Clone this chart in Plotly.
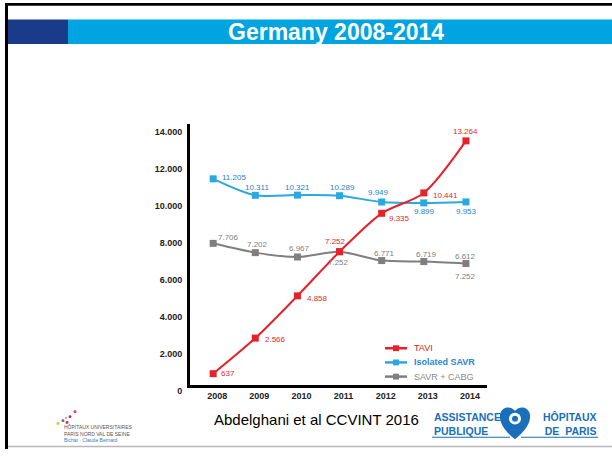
import plotly.graph_objects as go

# ---- data ----
years = [2008, 2009, 2010, 2011, 2012, 2013, 2014]
tavi = [637, 2566, 4858, 7252, 9335, 10441, 13264]
isolated_savr = [11205, 10311, 10321, 10289, 9949, 9899, 9953]
savr_cabg = [7706, 7202, 6967, 7252, 6771, 6719, 6612]
y_ticks = [0, 2000, 4000, 6000, 8000, 10000, 12000, 14000]
stray_label_year = [2014]
stray_label_value = [6612]
stray_label_text = ["7.252"]

W, H = 612, 459
RED = "#e8202a"
BLUE = "#2aa8e0"
GRAY = "#7f7f7f"


def fmt(v):
    return f"{v:,}".replace(",", ".")


def px(x):
    return x / W


def py(y):
    return 1 - y / H


fig = go.Figure()

series = [
    ("SAVR + CABG", savr_cabg, GRAY),
    ("Isolated SAVR", isolated_savr, BLUE),
    ("TAVI", tavi, RED),
]
for key, vals, col in series:
    fig.add_trace(go.Scatter(
        x=years, y=vals, name=key, mode="lines+markers",
        line=dict(color=col, width=2, shape="spline", smoothing=0.8),
        marker=dict(symbol="square", size=7, color=col),
        cliponaxis=False, showlegend=False,
    ))

# label styles (anchor, xshift, yshift) per point
label_styles = {
    "TAVI": [("left", 6, 0), ("left", 8, -1), ("left", 8, -3), ("center", -4, 10),
             ("left", 5, -5), ("left", 7, -3), ("center", 0, 9)],
    "Isolated SAVR": [("left", 7, 1), ("center", 2, 8), ("center", 0, 8), ("center", 3, 8),
                      ("center", -3, 9), ("center", 1, -9), ("center", 1, -10)],
    "SAVR + CABG": [("left", 3, 6), ("center", 2, 8), ("center", 2, 8), ("center", -1, -11),
                    ("center", 3, 7), ("center", 3, 7), ("center", 0, 7)],
}
label_colors = {"TAVI": "#e02a2a", "Isolated SAVR": "#2a80c8", "SAVR + CABG": "#808080"}
annotations = []
for key, vals, col in series:
    for yr, v, (anc, xs, ys) in zip(years, vals, label_styles[key]):
        annotations.append(dict(
            x=yr, y=v, xref="x", yref="y", text=fmt(v), showarrow=False,
            xanchor=anc, yanchor="middle", xshift=xs, yshift=ys,
            font=dict(family="Liberation Sans", size=8, color=label_colors[key]),
        ))
for yr, v, t in zip(stray_label_year, stray_label_value, stray_label_text):
    annotations.append(dict(
        x=yr, y=v, xref="x", yref="y", text=t, showarrow=False,
        xanchor="center", yanchor="middle", yshift=-13,
        font=dict(family="Liberation Sans", size=8, color="#808080"),
    ))

shapes = []

# manual legend (TAVI, Isolated SAVR, SAVR + CABG)
legend_items = [
    ("TAVI", RED, "<span style='color:#e02020'>TAVI</span>", 356),
    ("Isolated SAVR", BLUE, "<b><span style='color:#2a88d0'>Isolated SAVR</span></b>", 370.5),
    ("SAVR + CABG", GRAY, "<span style='color:#8a8a8a'>SAVR + CABG</span>", 385),
]
for key, col, txt, ly in legend_items:
    shapes.append(dict(type="line", xref="paper", yref="paper", x0=px(385), x1=px(407),
                       y0=py(ly), y1=py(ly), line=dict(color=col, width=2.5)))
    shapes.append(dict(type="rect", xref="paper", yref="paper", x0=px(393), x1=px(399),
                       y0=py(ly + 3), y1=py(ly - 3), fillcolor=col, line_width=0))
    annotations.append(dict(
        x=px(412), y=py(ly), xref="paper", yref="paper", text=txt, showarrow=False,
        xanchor="left", yanchor="middle",
        font=dict(family="Liberation Sans", size=9),
    ))

# slide texts
annotations.append(dict(
    x=px(336), y=py(33), xref="paper", yref="paper", text="<b>Germany 2008-2014</b>",
    showarrow=False, xanchor="center", yanchor="middle",
    font=dict(family="Liberation Sans", size=23, color="white"),
))
annotations.append(dict(
    x=px(316), y=py(429), xref="paper", yref="paper", text="Abdelghani et al CCVINT 2016",
    showarrow=False, xanchor="center", yanchor="middle",
    font=dict(family="Liberation Sans", size=15, color="black"),
))
aphp = "#1a6fba"
annotations.append(dict(
    x=px(432), y=py(433), xref="paper", yref="paper",
    text="<b>ASSISTANCE<br>PUBLIQUE</b>", align="left",
    showarrow=False, xanchor="left", yanchor="middle",
    font=dict(family="Liberation Sans Narrow, Liberation Sans", size=10.5, color=aphp),
))
annotations.append(dict(
    x=px(598), y=py(433), xref="paper", yref="paper",
    text="<b>HÔPITAUX<br>DE  PARIS</b>", align="right",
    showarrow=False, xanchor="right", yanchor="middle",
    font=dict(family="Liberation Sans Narrow, Liberation Sans", size=10.5, color=aphp),
))
annotations.append(dict(
    x=px(62), y=py(443), xref="paper", yref="paper",
    text="HÔPITAUX UNIVERSITAIRES<br>PARIS NORD VAL DE SEINE<br><span style='color:#3a7cc0'>Bichat · Claude Bernard</span>",
    align="left", showarrow=False, xanchor="left", yanchor="middle",
    font=dict(family="Liberation Sans Narrow, Liberation Sans", size=5, color="#555"),
))

shapes += [
    # borders
    dict(type="rect", xref="paper", yref="paper", x0=px(5), x1=px(612), y0=py(6), y1=py(3),
         fillcolor="black", line_width=0),
    dict(type="rect", xref="paper", yref="paper", x0=px(5), x1=px(8), y0=py(459), y1=py(3),
         fillcolor="black", line_width=0),
    dict(type="line", xref="paper", yref="paper", x0=px(8), x1=px(612), y0=py(456.5), y1=py(456.5),
         line=dict(color="#b8b8b8", width=1.5)),
    # title bar
    dict(type="rect", xref="paper", yref="paper", x0=px(68), x1=px(612), y0=py(45), y1=py(20),
         fillcolor="#00a4e0", line_width=0),
    dict(type="rect", xref="paper", yref="paper", x0=px(8), x1=px(68), y0=py(45), y1=py(20),
         fillcolor="#1a3b8a", line_width=0),
    # AP-HP underlines
    dict(type="line", xref="paper", yref="paper", x0=px(432), x1=px(510), y0=py(447), y1=py(447),
         line=dict(color=aphp, width=1)),
    dict(type="line", xref="paper", yref="paper", x0=px(521), x1=px(598), y0=py(447), y1=py(447),
         line=dict(color=aphp, width=1)),
]

# heart
hp = [(515, 449), (505, 441), (499, 432), (500, 424), (501, 416), (510, 414), (515, 420),
      (520, 414), (529, 416), (530, 424), (531, 432), (525, 441), (515, 449)]
path = f"M {px(hp[0][0])} {py(hp[0][1])}"
for i in range(1, len(hp), 3):
    a, b, c = hp[i], hp[i + 1], hp[i + 2]
    path += f" C {px(a[0])} {py(a[1])}, {px(b[0])} {py(b[1])}, {px(c[0])} {py(c[1])}"
path += " Z"
shapes.append(dict(type="path", xref="paper", yref="paper", path=path, fillcolor=aphp, line_width=0))
shapes.append(dict(type="circle", xref="paper", yref="paper", x0=px(509), x1=px(521),
                   y0=py(434), y1=py(422), fillcolor="white", line_width=0))
shapes.append(dict(type="circle", xref="paper", yref="paper", x0=px(512), x1=px(518),
                   y0=py(431), y1=py(425), fillcolor=aphp, line_width=0))

# small logo dots
for (cx, cy, col, r) in [(58, 433, "#f2c200", 1.5), (63, 430, "#3a6fc0", 1.5), (67, 432, "#e03030", 1.5),
                         (70, 426, "#8a3ab0", 1.5), (75, 421, "#e0306a", 1.5), (66, 427, "#f08030", 1)]:
    shapes.append(dict(type="circle", xref="paper", yref="paper", x0=px(cx - r), x1=px(cx + r),
                       y0=py(cy + r), y1=py(cy - r), fillcolor=col, line_width=0))

fig.update_layout(
    width=W, height=H, autosize=False,
    margin=dict(l=0, r=0, t=0, b=0),
    paper_bgcolor="white", plot_bgcolor="white",
    showlegend=False,
    xaxis=dict(domain=[px(190), px(487)], range=[2007.45, 2014.5],
               tickvals=years, ticktext=[str(y) for y in years],
               showline=True, linecolor="black", linewidth=3, showgrid=False, zeroline=False,
               ticks="", ticklabelshift=4,
               tickfont=dict(family="Liberation Sans", size=9, color="#222", weight="bold")),
    yaxis=dict(domain=[py(394), py(127)], range=[0, 14166],
               tickvals=y_ticks, ticktext=[fmt(v) for v in y_ticks],
               showline=True, linecolor="black", linewidth=3, showgrid=False, zeroline=False,
               ticks="", ticklabelstandoff=3, ticklabelshift=5,
               tickfont=dict(family="Liberation Sans", size=9, color="#222", weight="bold")),
    annotations=annotations,
    shapes=shapes,
)

fig.write_html("out.html", config={"displayModeBar": False},
               post_script="document.body.style.margin='0';document.body.style.overflow='hidden';")
